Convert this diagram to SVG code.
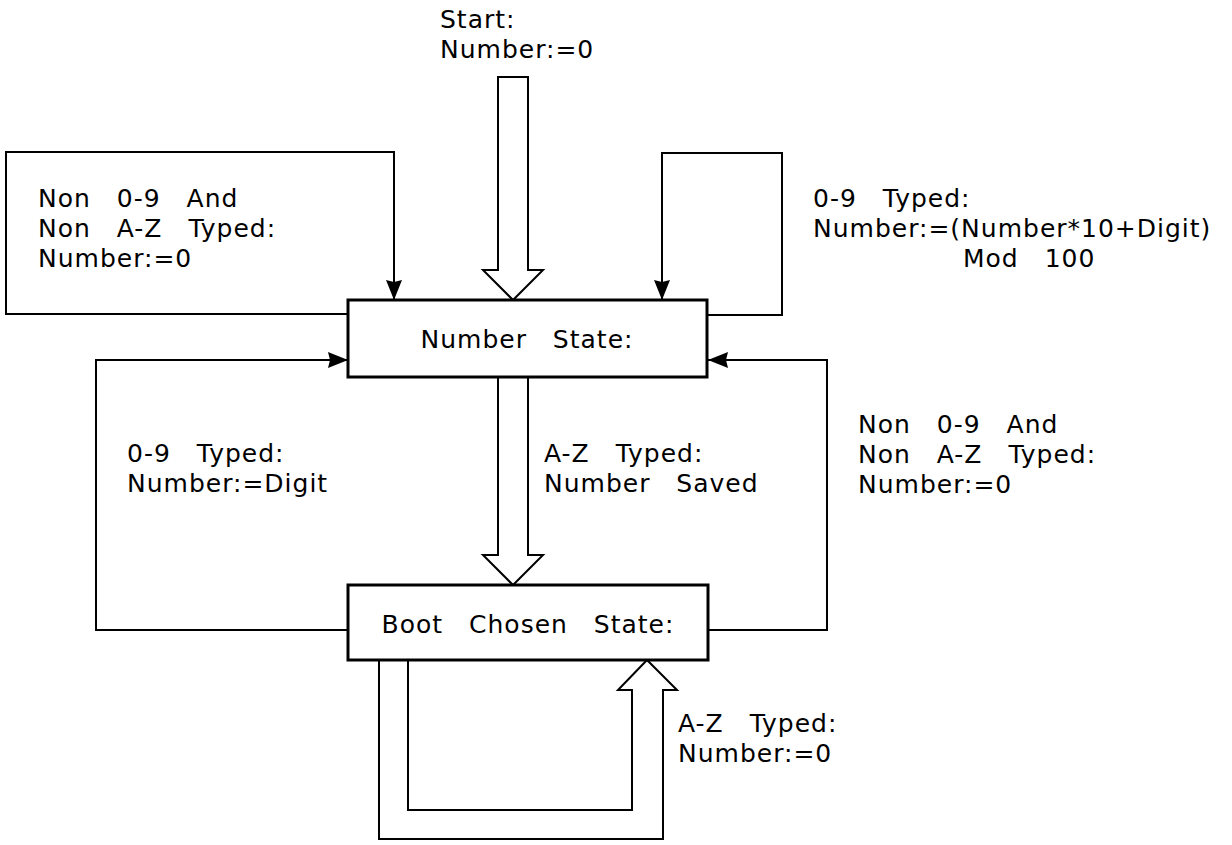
<svg xmlns="http://www.w3.org/2000/svg" width="1232" height="845" viewBox="0 0 1232 845">
<style>
text{font-family:"DejaVu Sans","Liberation Sans",sans-serif;font-size:25px;letter-spacing:1px;word-spacing:17px;fill:#000}
.box{fill:#fff;stroke:#000;stroke-width:3}
.con{fill:none;stroke:#000;stroke-width:2}
.hol{fill:#fff;stroke:#000;stroke-width:2;stroke-linejoin:miter}
</style>
<defs>
<marker id="ah" markerUnits="userSpaceOnUse" markerWidth="24" markerHeight="20" refX="20" refY="8" orient="auto">
<path d="M0,0 L20,8 L0,16 L2,8 Z" fill="#000"/>
</marker>
</defs>
<g id="connectors">
<path class="hol" d="M498,77 V270 H483 L513,300 L543,270 H528 V77 Z"/>
<path class="hol" d="M498,377 V555 H483 L513,585 L543,555 H528 V377"/>
<path class="hol" d="M379,660 V839 H663 V690 H677 L647,660 L618,690 H632 V810 H408 V660"/>
<path class="con" d="M348,314 H6 V152 H394 V300" marker-end="url(#ah)"/>
<path class="con" d="M707,315 H782 V153 H662 V300" marker-end="url(#ah)"/>
<path class="con" d="M348,630 H96 V360 H348" marker-end="url(#ah)"/>
<path class="con" d="M708,630 H827 V360 H708" marker-end="url(#ah)"/>
</g>
<g id="number-state">
<rect class="box" x="348" y="300" width="359" height="77"/>
<text x="527" y="348" text-anchor="middle">Number State:</text>
</g>
<g id="boot-chosen-state">
<rect class="box" x="348" y="585" width="360" height="75"/>
<text x="528" y="633" text-anchor="middle">Boot Chosen State:</text>
</g>
<g id="labels">
<text x="440" y="28">Start:</text>
<text x="440" y="58">Number:=0</text>
<text x="38" y="207">Non 0-9 And</text>
<text x="38" y="237">Non A-Z Typed:</text>
<text x="38" y="267">Number:=0</text>
<text x="813" y="207">0-9 Typed:</text>
<text x="813" y="237">Number:=(Number*10+Digit)</text>
<text x="963" y="267">Mod 100</text>
<text x="127" y="462">0-9 Typed:</text>
<text x="127" y="492">Number:=Digit</text>
<text x="544" y="462">A-Z Typed:</text>
<text x="544" y="492">Number Saved</text>
<text x="858" y="433">Non 0-9 And</text>
<text x="858" y="463">Non A-Z Typed:</text>
<text x="858" y="493">Number:=0</text>
<text x="678" y="732">A-Z Typed:</text>
<text x="678" y="762">Number:=0</text>
</g>
</svg>
